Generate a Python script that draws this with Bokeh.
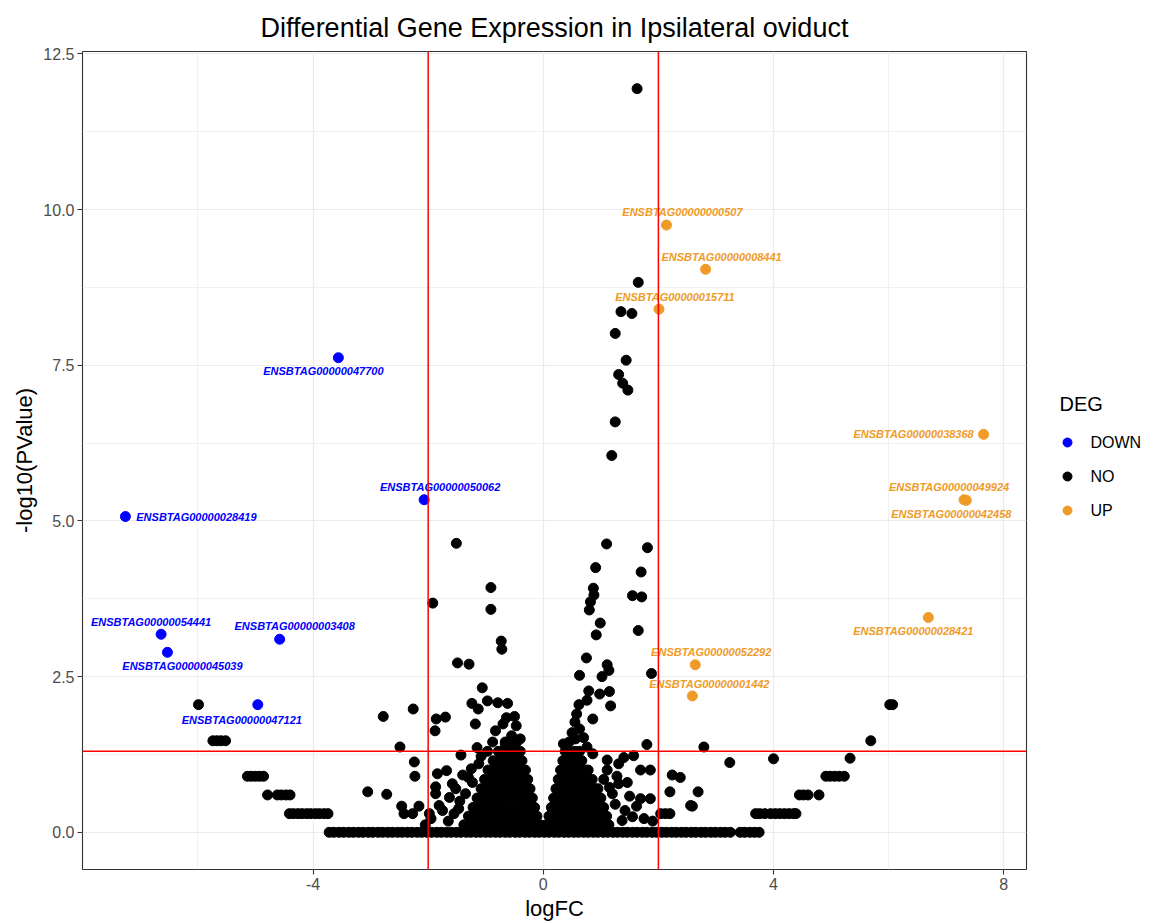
import math

from bokeh.core.properties import value
from bokeh.embed import file_html
from bokeh.layouts import row
from bokeh.models import ColumnDataSource, FixedTicker, Range1d, Span
from bokeh.plotting import figure
from bokeh.resources import INLINE

# ---------------------------------------------------------------- text
TITLE = "Differential Gene Expression in Ipsilateral oviduct"
X_LABEL = "logFC"
Y_LABEL = "-log10(PValue)"
LEGEND_TITLE = "DEG"
GROUPS = ["DOWN", "NO", "UP"]

# significance thresholds
LOGFC_CUTOFF = 2.0
PVALUE_CUTOFF = 0.05

# ---------------------------------------------------------------- ticks
x_ticks = [-4, 0, 4, 8]
x_minor = [-6, -2, 2, 6]
x_tick_labels = ["-4", "0", "4", "8"]
y_ticks = [0.0, 2.5, 5.0, 7.5, 10.0, 12.5]
y_minor = [1.25, 3.75, 6.25, 8.75, 11.25]
y_tick_labels = ["0.0", "2.5", "5.0", "7.5", "10.0", "12.5"]

# ---------------------------------------------------------------- DEGs
down_genes = ["ENSBTAG00000047700", "ENSBTAG00000050062", "ENSBTAG00000028419",
              "ENSBTAG00000054441", "ENSBTAG00000045039", "ENSBTAG00000003408",
              "ENSBTAG00000047121"]
down_logfc = [-3.56, -2.07, -7.26, -6.64, -6.53, -4.58, -4.96]
down_neglogp = [7.62, 5.34, 5.07, 3.18, 2.89, 3.10, 2.05]

up_genes = ["ENSBTAG00000000507", "ENSBTAG00000008441", "ENSBTAG00000015711",
            "ENSBTAG00000038368", "ENSBTAG00000049924", "ENSBTAG00000042458",
            "ENSBTAG00000028421", "ENSBTAG00000052292", "ENSBTAG00000001442"]
up_logfc = [2.14, 2.82, 2.01, 7.65, 7.31, 7.35, 6.69, 2.64, 2.59]
up_neglogp = [9.75, 9.04, 8.40, 6.39, 5.34, 5.33, 3.45, 2.69, 2.19]

# ---------------------------------------------------------------- non-DE genes
# genes with P = 1
no_baseline = {
    0.0: [-3.72, -3.64, -3.55, -3.47, -3.38, -3.30, -3.21, -3.13, -3.04, -2.96,
          -2.87, -2.79, -2.70, -2.62, -2.53, -2.45, -2.36, -2.28, -2.19, -2.11,
          -2.02, -1.94, -1.85, -1.77, -1.68, -1.60, -1.51, -1.43, -1.34, -1.26,
          -1.17, -1.09, -1.00, -0.92, -0.83, -0.75, -0.66, -0.58, -0.49, -0.41,
          -0.32, -0.24, -0.15, -0.07, 0.02, 0.10, 0.19, 0.27, 0.36, 0.44,
          0.53, 0.61, 0.70, 0.78, 0.87, 0.95, 1.04, 1.12, 1.21, 1.29,
          1.38, 1.46, 1.55, 1.63, 1.72, 1.80, 1.89, 1.97, 2.06, 2.14,
          2.23, 2.31, 2.40, 2.48, 2.57, 2.65, 2.74, 2.82, 2.91, 2.99,
          3.08, 3.16, 3.25, 3.42, 3.50, 3.59, 3.67, 3.75],
}

# low-count genes with large fold changes (discrete P levels)
no_tails = {
    0.30: [-4.41, -4.34, -4.26, -4.19, -4.11, -4.04, -3.96, -3.89, -3.81, -3.74,
           3.69, 3.76, 3.85, 3.95, 4.03, 4.11, 4.19, 4.27, 4.35, 4.39],
    0.60: [-4.79, -4.62, -4.55, -4.47, -4.40, 4.45, 4.52, 4.60, 4.79],
    0.90: [-5.14, -5.07, -5.00, -4.93, -4.86, 4.91, 4.98, 5.06, 5.14, 5.23],
    1.19: [5.33],
    1.47: [-5.74, -5.67, -5.60, -5.52, 5.69],
    2.05: [-5.99, 6.02, 6.07],
}

# bulk of genes close to zero fold change
no_core = {
    0.12: [-1.38, -1.29, -1.21, -1.12, -1.04, -0.95, -0.87, -0.78, -0.70, -0.61,
           -0.53, -0.44, -0.36, -0.27, -0.19, -0.12, -0.05,
           0.05, 0.13, 0.22, 0.30, 0.39, 0.47, 0.56, 0.64, 0.73, 0.81, 0.90,
           0.98, 1.07, 1.14],
    0.26: [-1.30, -1.22, -1.13, -1.05, -0.96, -0.88, -0.79, -0.71, -0.62, -0.54,
           -0.45, -0.37, -0.28, -0.20, -0.11,
           0.10, 0.18, 0.27, 0.35, 0.44, 0.52, 0.61, 0.69, 0.78, 0.86, 0.95,
           1.03, 1.10],
    0.40: [-1.22, -1.13, -1.05, -0.96, -0.88, -0.79, -0.71, -0.62, -0.54, -0.45,
           -0.37, -0.28, -0.21, -0.15,
           0.14, 0.22, 0.31, 0.39, 0.48, 0.56, 0.65, 0.73, 0.82, 0.90, 0.99, 1.05],
    0.55: [-1.15, -1.06, -0.98, -0.89, -0.81, -0.72, -0.64, -0.55, -0.47, -0.38,
           -0.30, -0.24, -0.19,
           0.18, 0.26, 0.35, 0.43, 0.52, 0.60, 0.69, 0.77, 0.86, 0.94, 1.00],
    0.70: [-1.08, -0.99, -0.91, -0.82, -0.74, -0.65, -0.57, -0.48, -0.40, -0.32, -0.23,
           0.22, 0.30, 0.39, 0.47, 0.56, 0.64, 0.73, 0.81, 0.90, 0.95],
    0.85: [-1.02, -0.93, -0.85, -0.76, -0.68, -0.59, -0.51, -0.42, -0.34, -0.27,
           0.26, 0.34, 0.43, 0.51, 0.60, 0.68, 0.77, 0.85],
    1.00: [-0.96, -0.87, -0.79, -0.70, -0.62, -0.53, -0.45, -0.37, -0.31,
           0.30, 0.38, 0.47, 0.55, 0.64, 0.72, 0.78],
    1.15: [-0.87, -0.79, -0.70, -0.62, -0.53, -0.45, -0.37,
           0.34, 0.42, 0.51, 0.59, 0.67],
    1.30: [-0.78, -0.70, -0.61, -0.53, -0.45, -0.40,
           0.38, 0.46, 0.55, 0.63],
    1.45: [-0.66, -0.55, -0.46],
}

# scattered genes, (logFC, -log10 P)
no_scatter_left = [
    (-1.51, 4.64), (-0.91, 3.93), (-1.92, 3.68), (-0.91, 3.58), (-0.73, 3.07),
    (-0.72, 2.94), (-1.49, 2.72), (-1.29, 2.70), (-1.06, 2.32), (-1.24, 2.07),
    (-1.13, 1.98), (-0.97, 2.11), (-0.79, 2.08), (-0.62, 2.07), (-0.50, 1.86),
    (-0.64, 1.84), (-1.18, 1.74), (-0.83, 1.63), (-0.70, 1.74), (-0.47, 1.71),
    (-2.78, 1.86), (-2.26, 1.98), (-1.86, 1.82), (-1.70, 1.85), (-1.88, 1.63),
    (-2.49, 1.37), (-1.43, 1.24), (-1.15, 1.36), (-1.08, 1.22), (-2.24, 1.13),
    (-2.23, 0.90), (-3.05, 0.65), (-2.72, 0.61), (-1.84, 0.94), (-1.68, 0.99),
    (-1.58, 0.78), (-1.52, 0.70), (-1.87, 0.73), (-1.87, 0.62), (-1.81, 0.43),
    (-1.63, 0.56), (-2.46, 0.42), (-2.16, 0.42), (-2.42, 0.30), (-2.27, 0.30),
    (-1.23, 0.80), (-1.45, 0.50), (-1.55, 0.30), (-1.65, 0.18), (-1.95, 0.22),
    (-2.05, 0.12), (-1.40, 0.92), (-1.30, 0.88), (-1.35, 0.62), (-1.47, 0.38),
    (-1.75, 0.35), (-1.98, 0.30), (-1.25, 1.02), (-1.12, 1.10), (-0.55, 1.55),
    (-0.40, 1.50), (-0.88, 1.45), (-0.97, 1.30), (-0.66, 1.42),
]
no_scatter_right = [
    (1.63, 11.94), (1.65, 8.83), (1.35, 8.36), (1.54, 8.33), (1.25, 8.01),
    (1.44, 7.58), (1.31, 7.35), (1.38, 7.21), (1.47, 7.10), (1.25, 6.59),
    (1.19, 6.05), (1.10, 4.63), (1.81, 4.57), (0.91, 4.25), (1.70, 4.18),
    (0.87, 3.92), (0.88, 3.81), (1.55, 3.80), (1.71, 3.78), (0.82, 3.70),
    (0.80, 3.57), (0.99, 3.36), (1.65, 3.24), (0.92, 3.17), (0.75, 2.80),
    (1.11, 2.69), (1.14, 2.60), (1.02, 2.50), (0.63, 2.52), (1.88, 2.55),
    (0.79, 2.27), (0.98, 2.22), (1.15, 2.26), (0.76, 2.12), (1.17, 2.03),
    (0.62, 2.05), (0.58, 1.90), (0.86, 1.82), (0.55, 1.77), (0.63, 1.66),
    (0.56, 1.50), (0.50, 1.60), (0.45, 1.45), (0.70, 1.52), (1.80, 1.41),
    (0.76, 1.37), (0.86, 1.26), (1.11, 1.16), (1.31, 1.10), (1.40, 1.20),
    (1.57, 1.23), (1.11, 1.00), (1.69, 1.00), (1.86, 1.00), (1.31, 0.78),
    (1.46, 0.80), (2.24, 0.92), (2.38, 0.88), (2.20, 0.65), (2.69, 0.65),
    (2.59, 0.42), (1.69, 0.54), (1.86, 0.54), (2.04, 0.30), (2.12, 0.30),
    (2.20, 0.30), (1.37, 0.19), (1.25, 0.45), (1.20, 0.62), (1.42, 0.35),
    (1.55, 0.25), (1.62, 0.42), (1.75, 0.22), (1.90, 0.18), (1.50, 0.58),
    (1.28, 0.90), (1.05, 0.85), (1.15, 0.72), (2.79, 1.37), (3.24, 1.12),
    (4.00, 1.18), (2.56, 0.43), (0.35, 1.42),
]

# ---------------------------------------------------------------- label placement (px)
down_dx = [-15, 16, 71, -10, 15, 15, -16]
down_dy = [13, -13, 0, -12, 14, -13, 15]
up_dx = [16, 16, 16, -70, -15, -15, -15, 16, 17]
up_dy = [-13, -12, -12, 0, -13, 14, 14, -13, -12]

# ---------------------------------------------------------------- colours / fonts
COLORS = {"DOWN": "#0000FF", "NO": "#000000", "UP": "#F09B28"}
FONT = "Liberation Sans"

# page geometry (px)
FRAME_LEFT, FRAME_W = 82, 944
FRAME_TOP, FRAME_H = 51, 818
BORDER_BOTTOM = 52
MAIN_RIGHT_PAD = 2
LEG_W = 129


def flatten_levels(levels):
    xs, ys = [], []
    for level, fcs in levels.items():
        for fc in fcs:
            xs.append(fc)
            ys.append(level)
    return xs, ys


no_x, no_y = [], []
for block in (no_baseline, no_tails, no_core):
    bx, by = flatten_levels(block)
    no_x += bx
    no_y += by
for fc, nlp in no_scatter_left + no_scatter_right:
    no_x.append(fc)
    no_y.append(nlp)

# axis limits with 5% expansion on either side of the data
all_x = no_x + down_logfc + up_logfc
all_y = no_y + down_neglogp + up_neglogp
xspan = max(all_x) - min(all_x)
yspan = max(all_y) - min(all_y)
x_range = Range1d(min(all_x) - 0.05 * xspan, max(all_x) + 0.05 * xspan)
y_range = Range1d(min(all_y) - 0.05 * yspan, max(all_y) + 0.05 * yspan)

# ---------------------------------------------------------------- main panel
p = figure(
    frame_width=FRAME_W, frame_height=FRAME_H,
    min_border_left=FRAME_LEFT, min_border_right=MAIN_RIGHT_PAD,
    min_border_top=FRAME_TOP, min_border_bottom=BORDER_BOTTOM,
    x_range=x_range, y_range=y_range,
    output_backend="svg", toolbar_location=None,
    background_fill_color="white", border_fill_color="white",
)

p.title.text = TITLE
p.title.align = "center"
p.title.text_font = FONT
p.title.text_font_size = "27px"
p.title.text_font_style = "normal"
p.title.text_color = "black"
p.title.standoff = 18

p.outline_line_color = "#333333"
p.outline_line_width = 1.1

for axis, ticks, minor, labels, name in (
    (p.xaxis[0], x_ticks, x_minor, x_tick_labels, X_LABEL),
    (p.yaxis[0], y_ticks, y_minor, y_tick_labels, Y_LABEL),
):
    axis.ticker = FixedTicker(ticks=ticks, minor_ticks=minor)
    axis.major_label_overrides = {t: s for t, s in zip(ticks, labels)}
    axis.axis_label = name
    axis.axis_label_text_font = FONT
    axis.axis_label_text_font_size = "22px"
    axis.axis_label_text_font_style = "normal"
    axis.axis_label_text_color = "black"
    axis.axis_label_standoff = 3
    axis.major_label_text_font = FONT
    axis.major_label_text_font_size = "16px"
    axis.major_label_text_color = "#4D4D4D"
    axis.major_label_standoff = 3
    axis.axis_line_color = None
    axis.major_tick_line_color = "#333333"
    axis.major_tick_line_width = 1.1
    axis.major_tick_out = 5
    axis.major_tick_in = 0
    axis.minor_tick_line_color = None

for grid, ticks, minor in ((p.xgrid[0], x_ticks, x_minor), (p.ygrid[0], y_ticks, y_minor)):
    grid.ticker = FixedTicker(ticks=ticks, minor_ticks=minor)
    grid.grid_line_color = "#EBEBEB"
    grid.grid_line_width = 1.2
    grid.minor_grid_line_color = "#EBEBEB"
    grid.minor_grid_line_width = 0.7

# points
p.scatter(no_x, no_y, size=10, color=COLORS["NO"])
down_src = ColumnDataSource(dict(x=down_logfc, y=down_neglogp, gene=down_genes,
                                 dx=down_dx, dy=down_dy))
up_src = ColumnDataSource(dict(x=up_logfc, y=up_neglogp, gene=up_genes,
                               dx=up_dx, dy=up_dy))
p.scatter("x", "y", source=down_src, size=10, color=COLORS["DOWN"])
p.scatter("x", "y", source=up_src, size=10, color=COLORS["UP"])

# gene labels
for src, key in ((down_src, "DOWN"), (up_src, "UP")):
    p.text(x="x", y="y", text="gene", x_offset="dx", y_offset="dy", source=src,
           text_font=value(FONT), text_font_style="bold italic", text_font_size="11px",
           text_color=COLORS[key], text_align="center", text_baseline="middle")

# threshold lines
for loc in (-LOGFC_CUTOFF, LOGFC_CUTOFF):
    p.add_layout(Span(location=loc, dimension="height", line_color="red", line_width=1.5))
p.add_layout(Span(location=-math.log10(PVALUE_CUTOFF), dimension="width",
                  line_color="red", line_width=1.5))

# ---------------------------------------------------------------- legend panel
# same vertical frame as the main panel; coordinates are page pixels
leg_left = FRAME_LEFT + FRAME_W + MAIN_RIGHT_PAD
leg = figure(
    title=None,
    frame_width=LEG_W, frame_height=FRAME_H,
    min_border_left=0, min_border_right=0,
    min_border_top=FRAME_TOP, min_border_bottom=BORDER_BOTTOM,
    x_range=Range1d(leg_left, leg_left + LEG_W),
    y_range=Range1d(FRAME_TOP + FRAME_H, FRAME_TOP),
    x_axis_location=None, y_axis_location=None,
    output_backend="svg", toolbar_location=None,
    background_fill_color="white", border_fill_color="white",
)
leg.outline_line_color = None
leg.xgrid.visible = False
leg.ygrid.visible = False

key_y = [442, 476, 510]
leg.text(x=[1059], y=[403], text=[LEGEND_TITLE], text_font=value(FONT),
         text_font_size="20px", text_color="black", text_align="left",
         text_baseline="middle")
leg.scatter(x=[1067, 1067, 1067], y=key_y, size=9, color=[COLORS[g] for g in GROUPS])
leg.text(x=[1090, 1090, 1090], y=key_y, text=GROUPS, text_font=value(FONT),
         text_font_size="16px", text_color="black", text_align="left",
         text_baseline="middle")

layout = row(p, leg, spacing=0)

open("out.html", "w").write(file_html(layout, INLINE))
